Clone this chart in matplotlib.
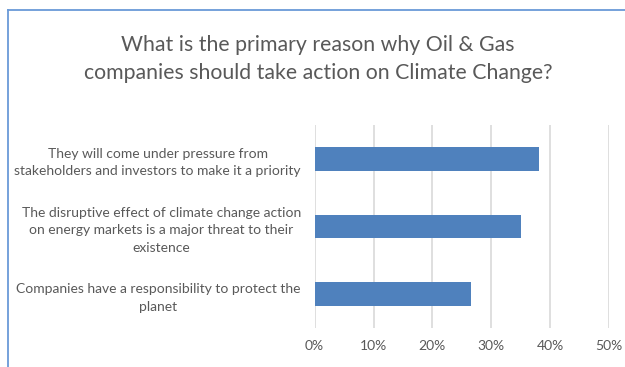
import matplotlib.pyplot as plt
from matplotlib.lines import Line2D

reasons = [
    'They will come under pressure from\nstakeholders and investors to make it a priority',
    'The disruptive effect of climate change action\non energy markets is a major threat to their\nexistence',
    'Companies have a responsibility to protect the\nplanet',
]
shares = [0.381, 0.350, 0.265]
ticks = [0, 0.1, 0.2, 0.3, 0.4, 0.5]
tick_labels = ['0%', '10%', '20%', '30%', '40%', '50%']

plt.rcParams['font.family'] = ['Lato', 'DejaVu Sans']
grey = '#595959'

fig = plt.figure(figsize=(6.25, 3.67), dpi=100, facecolor='white')
ax = fig.add_axes([0.5035, 0.1063, 0.4709, 0.5531])

pos = list(range(len(reasons)))
ax.barh(pos, shares, height=0.35, color='#4f81bd', zorder=3)
ax.set_ylim(len(reasons) - 0.5, -0.5)
ax.set_xlim(0, 0.5)
ax.set_xticks(ticks)
ax.set_xticklabels(tick_labels, color=grey, fontsize=10)
ax.set_yticks(pos)
ax.set_yticklabels(reasons, color=grey, fontsize=10, multialignment='center', linespacing=1.55)
ax.tick_params(axis='both', length=0)
ax.tick_params(axis='y', pad=10)
ax.tick_params(axis='x', pad=9)
ax.grid(axis='x', color='#d9d9d9', linewidth=1.2, zorder=0)
for s in ax.spines.values():
    s.set_visible(False)

fig.text(0.509, 0.839, 'What is the primary reason why Oil & Gas\ncompanies should take action on Climate Change?',
         ha='center', va='center', color=grey, fontsize=15.3, linespacing=1.5)

# chart frame, only top and left edges are in the picture
fig.add_artist(Line2D([7.5 / 625, 7.5 / 625], [0, 1 - 10 / 367], color='#6a9ad8', linewidth=1.3))
fig.add_artist(Line2D([7.5 / 625, 1], [1 - 10 / 367, 1 - 10 / 367], color='#6a9ad8', linewidth=1.3))

fig.savefig('out.png', dpi=100, facecolor='white')
